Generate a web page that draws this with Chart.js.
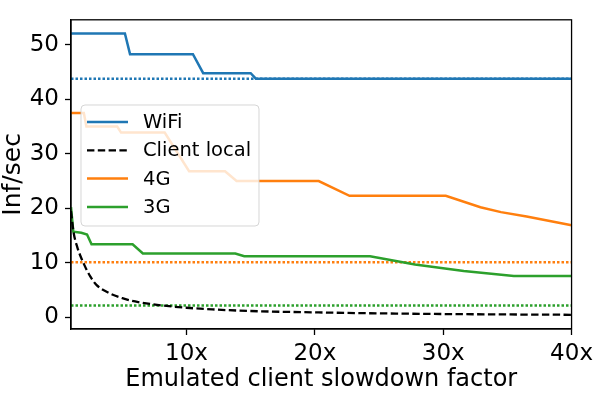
<!DOCTYPE html>
<html>
<head>
<meta charset="utf-8">
<script src="https://cdn.jsdelivr.net/npm/chart.js@4/dist/chart.umd.min.js"></script>
<style>
  body { margin: 0; background: #fff; }
</style>
</head>
<body>
<canvas id="c" width="598" height="393"></canvas>
<script>
// values
const xTicks = [10, 20, 30, 40];
const yTicks = [0, 10, 20, 30, 40, 50];

const wifiX = [1, 5.2, 5.6, 10.5, 11.3, 15.0, 15.4, 40];
const wifiY = [52.1, 52.1, 48.3, 48.3, 44.8, 44.8, 43.8, 43.8];

const localX = [1, 1.2, 1.5, 2, 2.5, 3, 4, 5, 6, 8, 10, 12, 15, 20, 25, 30, 35, 40];
const localY = [19.5, 15.6, 12.8, 9.8, 7.5, 5.9, 4.4, 3.5, 2.9, 2.2, 1.75, 1.45, 1.15, 0.9, 0.72, 0.6, 0.52, 0.46];

const g4X = [1, 2.0, 2.2, 4.6, 4.9, 8.3, 10.2, 13.0, 13.9, 20.3, 22.7, 30.2, 32.9, 34.5, 36.5, 40];
const g4Y = [37.5, 37.5, 35.0, 35.0, 33.9, 33.9, 26.8, 26.8, 25.0, 25.0, 22.3, 22.3, 20.2, 19.3, 18.5, 16.9];

const g3X = [1, 1.18, 1.8, 2.25, 2.6, 5.8, 6.6, 13.8, 14.5, 24.3, 27.8, 31.6, 35.5, 40];
const g3Y = [20.2, 15.7, 15.5, 15.2, 13.4, 13.4, 11.7, 11.7, 11.2, 11.2, 9.7, 8.5, 7.6, 7.6];

const baseX = [1, 40];
const wifiBase = [43.8, 43.8];
const g4Base = [10.1, 10.1];
const g3Base = [2.15, 2.15];

const BLUE = '#1f77b4', ORANGE = '#ff7f0e', GREEN = '#2ca02c', BLACK = '#000000';
const FONT = 'DejaVu Sans';

const pts = (xs, ys) => xs.map((x, i) => ({ x: x, y: ys[i] }));

const legendNames = ['WiFi', 'Client local', '4G', '3G'];

// matplotlib-like legend box inside the axes
const legendBox = {
  id: 'legendBox',
  afterDatasetsDraw(chart) {
    const ctx = chart.ctx;
    const bx = 81, by = 105, bw = 178, bh = 121, r = 4;
    ctx.save();
    ctx.beginPath();
    ctx.roundRect(bx, by, bw, bh, r);
    ctx.fillStyle = 'rgba(255,255,255,0.8)';
    ctx.fill();
    ctx.strokeStyle = 'rgba(204,204,204,0.8)';
    ctx.lineWidth = 1;
    ctx.stroke();
    ctx.font = '19.5px "' + FONT + '"';
    ctx.textBaseline = 'middle';
    ctx.fillStyle = '#000';
    legendNames.forEach((name, i) => {
      const ds = chart.data.datasets[i];
      const y = 122 + i * 28.3;
      ctx.beginPath();
      ctx.setLineDash(ds.borderDash || []);
      ctx.strokeStyle = ds.borderColor;
      ctx.lineWidth = ds.borderWidth;
      ctx.moveTo(87, y);
      ctx.lineTo(128, y);
      ctx.stroke();
      ctx.setLineDash([]);
      ctx.fillText(name, 143, y + 1);
    });
    ctx.restore();
  },
  afterDraw(chart) {
    const a = chart.chartArea;
    const ctx = chart.ctx;
    ctx.save();
    ctx.strokeStyle = '#000';
    ctx.lineWidth = 1.3;
    ctx.strokeRect(a.left, a.top, a.right - a.left, a.bottom - a.top);
    ctx.restore();
  }
};

const solid = (label, xs, ys, color) => ({
  label: label, data: pts(xs, ys), borderColor: color, borderWidth: 2.5,
  pointRadius: 0, tension: 0, fill: false
});
const dotted = (label, ys, color) => ({
  label: label, data: pts(baseX, ys), borderColor: color, borderWidth: 2.5,
  borderDash: [2.5, 2], pointRadius: 0, fill: false
});

new Chart(document.getElementById('c'), {
  type: 'line',
  data: {
    datasets: [
      solid('WiFi', wifiX, wifiY, BLUE),
      {
        label: 'Client local', data: pts(localX, localY), borderColor: BLACK,
        borderWidth: 2.3, borderDash: [7.4, 3.4], pointRadius: 0,
        cubicInterpolationMode: 'monotone', fill: false
      },
      solid('4G', g4X, g4Y, ORANGE),
      solid('3G', g3X, g3Y, GREEN),
      dotted('WiFi base', wifiBase, BLUE),
      dotted('4G base', g4Base, ORANGE),
      dotted('3G base', g3Base, GREEN)
    ]
  },
  options: {
    responsive: false,
    animation: false,
    layout: { padding: { top: 2, right: 23, left: 0, bottom: 0 } },
    plugins: { legend: { display: false }, tooltip: { enabled: false } },
    scales: {
      x: {
        type: 'linear', min: 1, max: 40,
        afterBuildTicks: s => { s.ticks = xTicks.map(v => ({ value: v })); },
        afterFit: s => { s.height = 64; },
        grid: { drawOnChartArea: false, drawTicks: true, tickLength: 6, color: '#000', tickWidth: 1.3 },
        border: { display: true, color: '#000', width: 1.3 },
        ticks: {
          color: '#000', padding: 5, maxRotation: 0, autoSkip: false,
          font: { family: FONT, size: 23 },
          callback: v => v + 'x'
        },
        title: {
          display: true, text: 'Emulated client slowdown factor', color: '#000',
          font: { family: FONT, size: 24, lineHeight: 1 }, padding: { top: 0, bottom: 1 }
        }
      },
      y: {
        type: 'linear', min: -2.15, max: 54.6,
        afterBuildTicks: s => { s.ticks = yTicks.map(v => ({ value: v })); },
        afterFit: s => { s.width = 71; },
        grid: { drawOnChartArea: false, drawTicks: true, tickLength: 6, color: '#000', tickWidth: 1.3 },
        border: { display: true, color: '#000', width: 1.3 },
        ticks: { color: '#000', padding: 6, font: { family: FONT, size: 23 } },
        title: {
          display: true, text: 'Inf/sec', color: '#000',
          font: { family: FONT, size: 25, lineHeight: 1 }, padding: { top: 1, bottom: 0 }
        }
      }
    }
  },
  plugins: [legendBox]
});
</script>
</body>
</html>
